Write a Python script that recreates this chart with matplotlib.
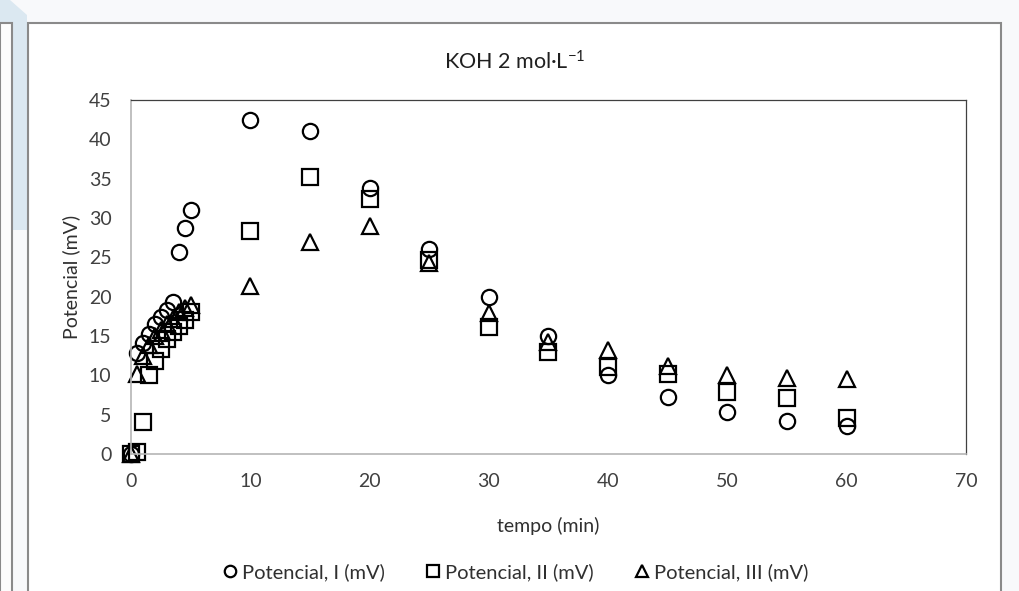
import numpy as np
import matplotlib
matplotlib.use("Agg")
from matplotlib import pyplot as plt
from matplotlib.patches import Rectangle, Polygon

plt.rcParams['font.family'] = ['Lato', 'DejaVu Sans']
plt.rcParams['mathtext.default'] = 'regular'

# time (min)
tempo = [0, 0.5, 1, 1.5, 2, 2.5, 3, 3.5, 4, 4.5, 5,
         10, 15, 20, 25, 30, 35, 40, 45, 50, 55, 60]
pot_I = [0, 12.8, 14.1, 15.3, 16.5, 17.4, 18.3, 19.3, 25.7, 28.7, 31.0,
         42.4, 41.0, 33.8, 26.0, 20.0, 15.0, 10.1, 7.2, 5.3, 4.2, 3.6]
pot_II = [0, 0.2, 4.1, 10.0, 11.8, 13.3, 14.6, 15.5, 16.3, 17.0, 18.0,
          28.3, 35.2, 32.4, 24.6, 16.2, 13.0, 11.0, 10.2, 7.9, 7.1, 4.6]
pot_III = [0, 10.2, 12.5, 13.8, 15.0, 15.8, 16.5, 17.2, 18.0, 18.5, 19.0,
           21.3, 27.0, 29.0, 24.3, 17.9, 14.2, 13.2, 11.2, 10.0, 9.7, 9.5]

fig = plt.figure(figsize=(10.2, 5.91), dpi=100)
fig.patch.set_facecolor('#f8f9fb')

W, H = 1020.0, 591.0
# left panel decoration
fig.patches.append(Polygon([(0, 1 - 230 / H), (0, 1), (10 / W, 1), (27 / W, 1 - 15 / H),
                            (27 / W, 1 - 230 / H)], closed=True,
                           transform=fig.transFigure, facecolor='#dbe8f1', edgecolor='none', zorder=-3))
fig.patches.append(Rectangle((0, -0.05), 12 / W, 1.05 - 23 / H, transform=fig.transFigure,
                             facecolor='#fdfdfd', edgecolor='#8a8a8a', lw=1.5, zorder=-2))
# chart frame
fig.patches.append(Rectangle((28 / W, -0.05), 973 / W, 1.05 - 23 / H, transform=fig.transFigure,
                             facecolor='white', edgecolor='#8a8a8a', lw=1.5, zorder=-2))

ax = fig.add_axes([131 / W, 1 - 454 / H, 835 / W, 354 / H])
ax.set_facecolor('none')

mk = dict(linestyle='none', markerfacecolor='none', markeredgecolor='black',
          markeredgewidth=1.6, clip_on=False)
ax.plot(tempo, pot_I, marker='o', markersize=11, label='Potencial, I (mV)', **mk)
ax.plot(tempo, pot_II, marker='s', markersize=11, label='Potencial, II (mV)', **mk)
ax.plot(tempo, pot_III, marker='^', markersize=12, label='Potencial, III (mV)', **mk)

ax.set_xlim(0, 70)
ax.set_ylim(0, 45)
ax.set_xticks(np.arange(0, 71, 10))
ax.set_yticks(np.arange(0, 46, 5))
ax.tick_params(length=0, labelsize=14, colors='#404040')
ax.tick_params(axis='x', pad=14)
ax.tick_params(axis='y', pad=14)
for s in ['top', 'right']:
    ax.spines[s].set_color('#404040')
    ax.spines[s].set_linewidth(0.9)
for s in ['left', 'bottom']:
    ax.spines[s].set_color('#b5b5b5')
    ax.spines[s].set_linewidth(1.2)

ax.set_xlabel('tempo (min)', fontsize=14, color='#303030', labelpad=19)
ax.set_ylabel('Potencial (mV)', fontsize=14, color='#303030', labelpad=6)
fig.text(0.505, 1 - 62 / H, 'KOH 2 mol·L$^{-1}$', ha='center', va='center', fontsize=15.5, color='#202020')

h, l = ax.get_legend_handles_labels()
fig.legend(h, l, loc='center', bbox_to_anchor=(0.505, 1 - 572 / H), ncol=3, frameon=False,
           fontsize=14.5, markerscale=0.75, handlelength=0.8, handletextpad=0.2, columnspacing=2.0,
           labelcolor='#303030')

fig.savefig('out.png', dpi=100, facecolor=fig.get_facecolor())
